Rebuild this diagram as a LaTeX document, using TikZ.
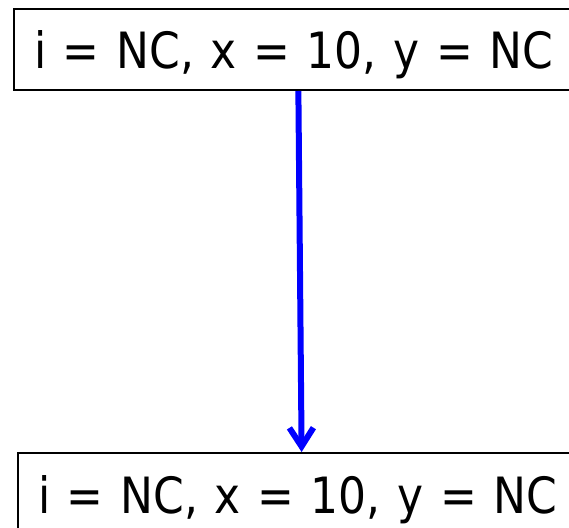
\documentclass[tikz,border=0pt]{standalone}
\usepackage{fontspec}
\setmainfont{DejaVu Sans}[FakeStretch=0.88, WordSpace=0.8]
\usepackage{tikz}
\usetikzlibrary{arrows.meta, positioning}
\definecolor{flowblue}{HTML}{0000FF}
\definecolor{stateblack}{HTML}{000000}

\begin{document}
\begin{tikzpicture}[
    x=0.75pt, y=-0.75pt,
    state/.style={draw=stateblack, line width=1.5pt, anchor=north west, font=\fontsize{37.5pt}{40pt}\selectfont,
      text width=396pt, align=left, inner xsep=15pt, inner ysep=0pt,
      text height=45pt, text depth=15.75pt},
    arrow/.style={-{Straight Barb[length=14pt, width=18pt]}, line width=4.5pt, flowblue},
]
    \useasboundingbox (0,0) rectangle (569,528);
    \clip (0,0) rectangle (569,528);

    % States
    \node[state] (before) at (13, 8) {i = NC, x = 10, y = NC};
    \node[state] (after) at (17, 452) {i = NC, x = 10, y = NC};

    % Arrow
    \draw[arrow] (before) -- (after);

\end{tikzpicture}
\end{document}
